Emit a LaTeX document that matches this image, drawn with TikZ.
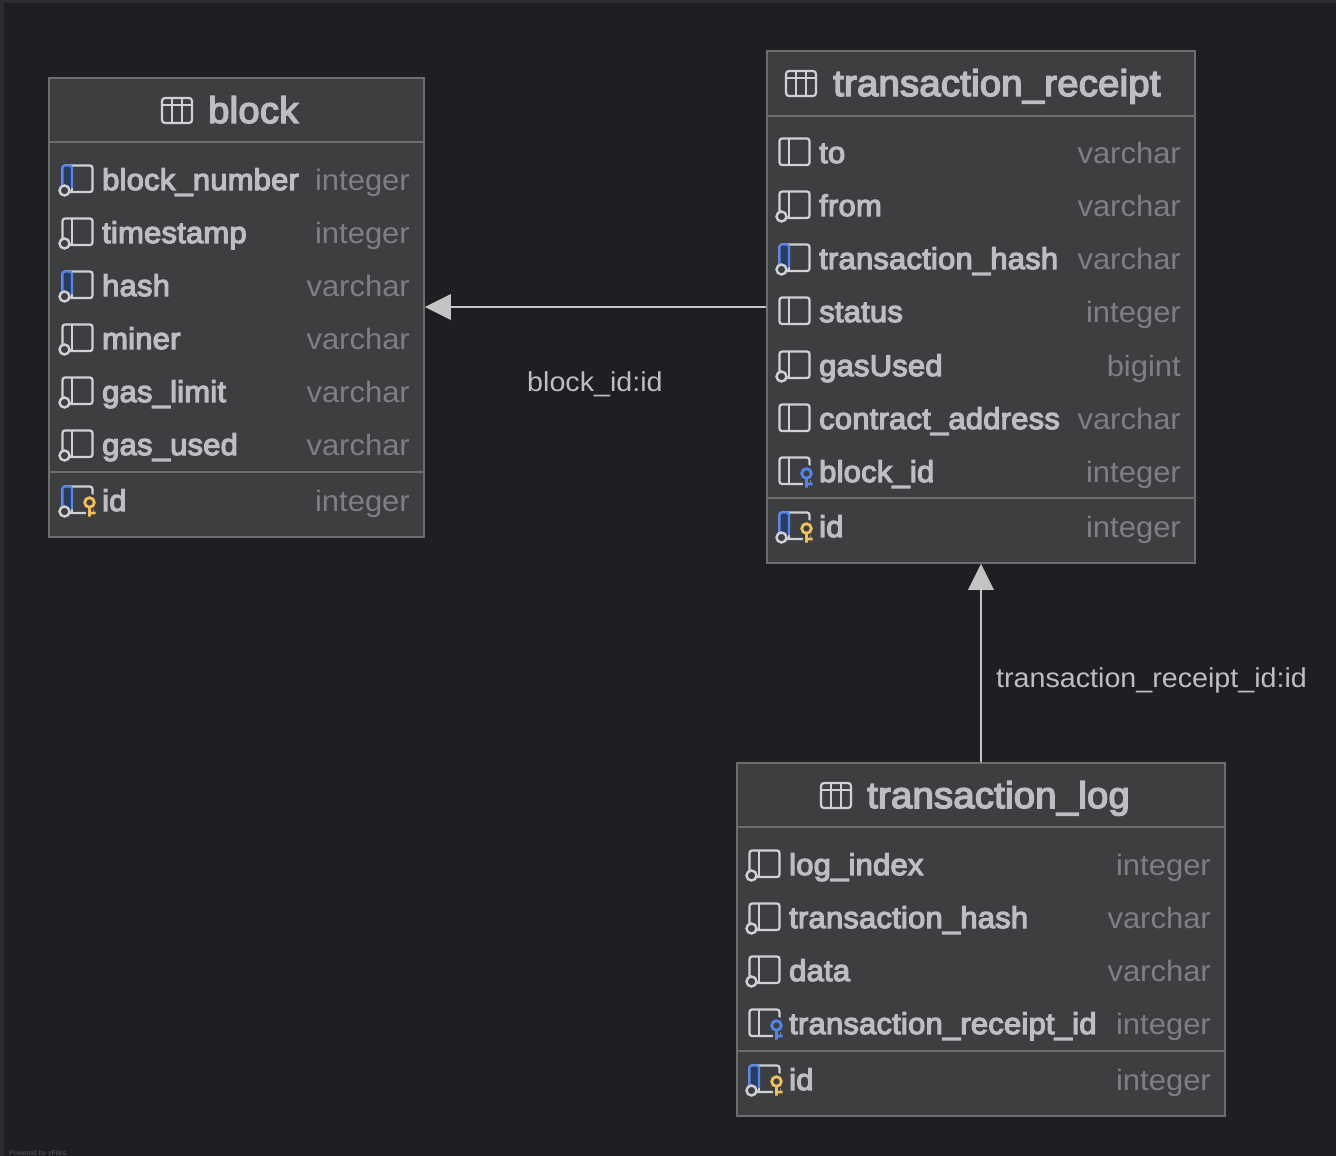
\documentclass[tikz,border=0pt]{standalone}
\usepackage{fontspec}
\setmainfont{Liberation Sans}
\newfontfamily\namefont[FakeBold=4,FakeStretch=1.03,LetterSpace=0.8]{Liberation Sans}
\newfontfamily\typefont[FakeStretch=1.05]{Liberation Sans}
\usetikzlibrary{calc}
\definecolor{canvas}{HTML}{1E1F22}
\definecolor{canvasedge}{HTML}{2B2C2E}
\definecolor{tablefill}{HTML}{3D3E40}
\definecolor{tableline}{HTML}{6C6D6D}
\definecolor{nametext}{HTML}{BCBEC4}
\definecolor{typetext}{HTML}{7E7F82}
\definecolor{icontext}{HTML}{CFD1D5}
\definecolor{refgrey}{HTML}{C4C4C4}
\definecolor{pkblue}{HTML}{5484EE}
\definecolor{pkfill}{HTML}{2A3B60}
\definecolor{keygold}{HTML}{F0C05C}
\tikzset{
	tablebox/.style={draw=tableline, fill=tablefill, line width=1.6pt, inner sep=0pt},
	titletext/.style={font=\namefont\fontsize{37}{37}\selectfont, text=nametext, anchor=base west, inner sep=0pt},
	nametext/.style={font=\namefont\fontsize{30}{30}\selectfont, text=nametext, anchor=base west, inner sep=0pt},
	typetext/.style={font=\typefont\fontsize{29.5}{30}\selectfont, text=typetext, anchor=base east, inner sep=0pt},
	edgetext/.style={font=\typefont\fontsize{27.3}{28}\selectfont, text=nametext, anchor=base west, inner sep=0pt},
	rowline/.style={draw=tableline, line width=2pt},
	iconline/.style={draw=icontext, line width=2.2pt, rounded corners=2.5pt},
	refline/.style={draw=refgrey, line width=2.4pt},
	refhead/.style={fill=refgrey, draw=none},
}
% marks of a column icon, placed by \rx and \ry
\newcommand{\markblue}{
	\fill[pkfill] (\rx+14,\ry-14) rectangle (\rx+23,\ry+8);
	\draw[pkblue, line width=2.2pt, rounded corners=2.5pt] (\rx+13.5,\ry+8) -- (\rx+13.5,\ry-14.5) -- (\rx+23,\ry-14.5) -- (\rx+23,\ry+8);
}
\newcommand{\markring}{
	\draw[draw=icontext, fill=tablefill, line width=2.4pt] (\rx+15.5,\ry+10.5) circle (5);
}
\newcommand{\markkey}[1]{
	\draw[tablefill, line width=7pt] (\rx+40.5,\ry+1) circle (5) (\rx+40.5,\ry+6) -- (\rx+40.5,\ry+15);
	\draw[#1, line width=2.8pt] (\rx+40.5,\ry+1.5) circle (4.8) (\rx+40.5,\ry+6.3) -- (\rx+40.5,\ry+15.5) (\rx+40.5,\ry+12) -- (\rx+46.5,\ry+12);
}
\newcommand{\goldkey}{\markkey{keygold}}
\newcommand{\bluekey}{\markkey{pkblue}}
\newcommand{\makerow}[7]{
	\def\rx{#2}
	\def\ry{#4}
	\draw[iconline] (#2+13.5,#4-14.5) rectangle (#2+43.5,#4+12);
	\draw[iconline] (#2+23,#4-14.5) -- (#2+23,#4+12);
	#7
	\node[nametext] (#1-#4-name) at (#2+53,#4+10) {#5};
	\node[typetext] (#1-#4-type) at (#3-14,#4+10) {#6};
}
\newcommand{\maketable}[7]{
	\node[tablebox, minimum width=#3-#2, minimum height=#5-#4] (#1) at ({(#2+#3)/2},{(#4+#5)/2}) {};
	\draw[rowline] (#2,#6) -- (#3,#6);
	\draw[rowline] (#2,#7) -- (#3,#7);
}
\newcommand{\tableicon}[2]{
	\draw[icontext, line width=2.2pt, rounded corners=3pt] (#1,#2) rectangle (#1+30,#2+25);
	\draw[icontext, line width=1.6pt] (#1,#2+7) -- (#1+30,#2+7) (#1+10,#2) -- (#1+10,#2+25) (#1+20,#2) -- (#1+20,#2+25);
}

\begin{document}
\begin{tikzpicture}[x=1pt,y=-1pt]
	\useasboundingbox (0,0) rectangle (1336,1156);
	\fill[canvasedge] (0,0) rectangle (1336,1156);
	\fill[canvas] (4,3) rectangle (1336,1156);

	\maketable{block}{49}{424}{78}{537}{142}{472}
	\tableicon{162}{98}
	\node[titletext] (block-title) at (208,123) {block};
	\makerow{block}{49}{424}{180}{block\_number}{integer}{\markblue\markring}
	\makerow{block}{49}{424}{233}{timestamp}{integer}{\markring}
	\makerow{block}{49}{424}{286}{hash}{varchar}{\markblue\markring}
	\makerow{block}{49}{424}{339}{miner}{varchar}{\markring}
	\makerow{block}{49}{424}{392}{gas\_limit}{varchar}{\markring}
	\makerow{block}{49}{424}{445}{gas\_used}{varchar}{\markring}
	\makerow{block}{49}{424}{501}{id}{integer}{\markblue\markring\goldkey}

	\maketable{receipt}{767}{1195}{51}{563}{116}{498}
	\tableicon{786}{71}
	\node[titletext] (receipt-title) at (833,96) {transaction\_receipt};
	\makerow{receipt}{766}{1195}{153}{to}{varchar}{}
	\makerow{receipt}{766}{1195}{206}{from}{varchar}{\markring}
	\makerow{receipt}{766}{1195}{259}{transaction\_hash}{varchar}{\markblue\markring}
	\makerow{receipt}{766}{1195}{312}{status}{integer}{}
	\makerow{receipt}{766}{1195}{366}{gasUsed}{bigint}{\markring}
	\makerow{receipt}{766}{1195}{419}{contract\_address}{varchar}{}
	\makerow{receipt}{766}{1195}{472}{block\_id}{integer}{\bluekey}
	\makerow{receipt}{766}{1195}{527}{id}{integer}{\markblue\markring\goldkey}

	\maketable{log}{737}{1225}{763}{1116}{827}{1051}
	\tableicon{821}{783}
	\node[titletext] (log-title) at (867,808) {transaction\_log};
	\makerow{log}{736}{1225}{865}{log\_index}{integer}{\markring}
	\makerow{log}{736}{1225}{918}{transaction\_hash}{varchar}{\markring}
	\makerow{log}{736}{1225}{971}{data}{varchar}{\markring}
	\makerow{log}{736}{1225}{1024}{transaction\_receipt\_id}{integer}{\bluekey}
	\makerow{log}{736}{1225}{1080}{id}{integer}{\markblue\markring\goldkey}

	\coordinate (blocktip) at (block.east |- receipt.west);
	\coordinate (blockhead) at ($(blocktip)+(26,0)$);
	\coordinate (receipthead) at ($(receipt.south)+(0,26)$);
	\draw[refline] (receipt.west) -- (blockhead);
	\draw[refline] (log.north) -- (receipthead);
	\fill[refhead] (blocktip) -- ($(blockhead)+(0,-13)$) -- ($(blockhead)+(0,13)$) -- cycle;
	\fill[refhead] (receipt.south) -- ($(receipthead)+(-13,0)$) -- ($(receipthead)+(13,0)$) -- cycle;
	\node[edgetext] (blocklabel) at (527,391) {block\_id:id};
	\node[edgetext] (receiptlabel) at (996,687) {transaction\_receipt\_id:id};

	\node[font=\fontsize{7}{7}\selectfont, text=tableline!70!canvas, anchor=base west, inner sep=0pt] (credit) at (9,1155) {Powered by yFiles};
\end{tikzpicture}
\end{document}
